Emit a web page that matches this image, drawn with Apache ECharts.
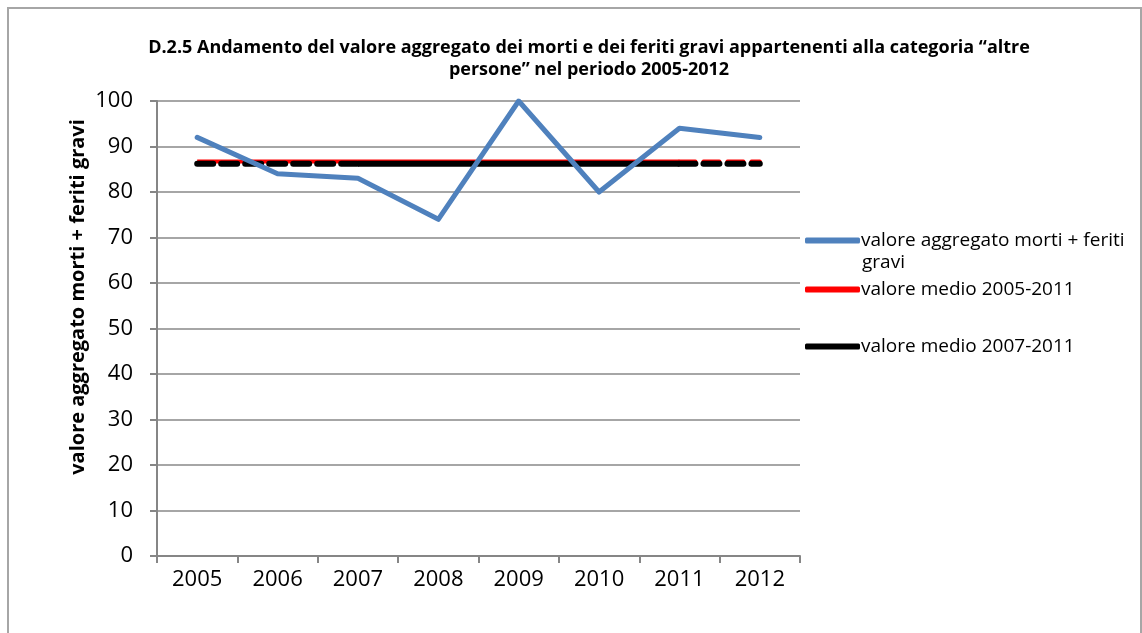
<!DOCTYPE html>
<html>
<head>
<meta charset="utf-8">
<script src="https://cdn.jsdelivr.net/npm/echarts@6/dist/echarts.min.js"></script>
<style>
  html, body { margin: 0; padding: 0; background: #fff; }
  #chart { width: 1142px; height: 633px; }
</style>
</head>
<body>
<div id="chart"></div>
<script>
const years = ['2005', '2006', '2007', '2008', '2009', '2010', '2011', '2012']
const aggregato = [92, 84, 83, 74, 100, 80, 94, 92]
// medie
const media0511 = 86.7
const media0711 = 86.2

const font = 'Open Sans'

// tratti: pieno dove la media è calcolata, tratteggiato fuori
const segment = (value, from, to) => years.map((y, i) => (i >= from && i <= to ? value : null))

const legendText = { fontFamily: font, fontSize: 19, color: '#000', padding: [0, 0, 0, -4] }

const instance = echarts.init(document.getElementById('chart'))
const option = {
  animation: false,
  title: {
    text: 'D.2.5 Andamento del valore aggregato dei morti e dei feriti gravi appartenenti alla categoria “altre\npersone” nel periodo 2005-2012',
    left: 584,
    textAlign: 'center',
    top: 32,
    textStyle: {
      fontFamily: font,
      fontSize: 18,
      fontWeight: 'bold',
      color: '#000',
      lineHeight: 22
    }
  },
  graphic: [
    {
      type: 'rect',
      shape: { x: 8, y: 8, width: 1133, height: 640 },
      style: { fill: 'none', stroke: '#a6a6a6', lineWidth: 2 },
      silent: true
    },
    {
      type: 'text',
      x: 862,
      y: 253,
      style: { text: 'gravi', fontFamily: font, fontSize: 19, fill: '#000' }
    },
    {
      type: 'text',
      x: 78,
      y: 297,
      rotation: Math.PI / 2,
      style: {
        text: 'valore aggregato morti + feriti gravi',
        fontFamily: font,
        fontSize: 20,
        fontWeight: 'bold',
        fill: '#000',
        align: 'center',
        verticalAlign: 'middle'
      }
    }
  ],
  legend: [
    {
      data: ['valore aggregato morti + feriti'],
      left: 805, top: 231, padding: 0,
      icon: 'roundRect', itemWidth: 55, itemHeight: 6,
      textStyle: legendText
    },
    {
      data: ['valore medio 2005-2011'],
      left: 805, top: 280, padding: 0,
      icon: 'roundRect', itemWidth: 55, itemHeight: 6,
      textStyle: legendText
    },
    {
      data: ['valore medio 2007-2011'],
      left: 805, top: 337, padding: 0,
      icon: 'roundRect', itemWidth: 55, itemHeight: 6,
      textStyle: legendText
    }
  ],
  grid: {
    left: 157,
    right: 342,
    top: 101,
    bottom: 77
  },
  xAxis: {
    type: 'category',
    data: years,
    boundaryGap: true,
    axisLine: { lineStyle: { color: '#868686', width: 2 } },
    axisTick: { show: true, length: 7, lineStyle: { color: '#868686', width: 2 } },
    axisLabel: { fontFamily: font, fontSize: 22, color: '#000', margin: 13 },
    splitLine: { show: false }
  },
  yAxis: {
    type: 'value',
    min: 0,
    max: 100,
    interval: 10,
    axisLine: { show: true, lineStyle: { color: '#868686', width: 2 } },
    axisTick: { show: true, length: 7, lineStyle: { color: '#868686', width: 2 } },
    axisLabel: { fontFamily: font, fontSize: 22, color: '#000', margin: 24 },
    splitLine: { lineStyle: { color: '#a6a6a6', width: 2 } }
  },
  series: [
    {
      name: 'valore medio 2005-2011',
      type: 'line',
      data: segment(media0511, 0, 6),
      symbol: 'none',
      color: '#ff0000',
      lineStyle: { width: 4, color: '#ff0000' },
      z: 2
    },
    {
      name: 'valore medio 2005-2011',
      type: 'line',
      data: segment(media0511, 6, 7),
      symbol: 'none',
      color: '#ff0000',
      lineStyle: { width: 4, color: '#ff0000', type: [16, 8], cap: 'round' },
      z: 2
    },
    {
      name: 'valore medio 2007-2011',
      type: 'line',
      data: segment(media0711, 0, 2),
      symbol: 'none',
      color: '#000',
      lineStyle: { width: 6, color: '#000', type: [16, 8], cap: 'round' },
      z: 3
    },
    {
      name: 'valore medio 2007-2011',
      type: 'line',
      data: segment(media0711, 2, 6),
      symbol: 'none',
      color: '#000',
      lineStyle: { width: 6, color: '#000' },
      z: 3
    },
    {
      name: 'valore medio 2007-2011',
      type: 'line',
      data: segment(media0711, 6, 7),
      symbol: 'none',
      color: '#000',
      lineStyle: { width: 6, color: '#000', type: [16, 8], cap: 'round' },
      z: 3
    },
    {
      name: 'valore aggregato morti + feriti',
      type: 'line',
      data: aggregato,
      symbol: 'none',
      color: '#4f81bd',
      lineStyle: { width: 5, color: '#4f81bd', cap: 'round', join: 'round' },
      z: 4
    }
  ]
}
instance.setOption(option)
</script>
</body>
</html>
